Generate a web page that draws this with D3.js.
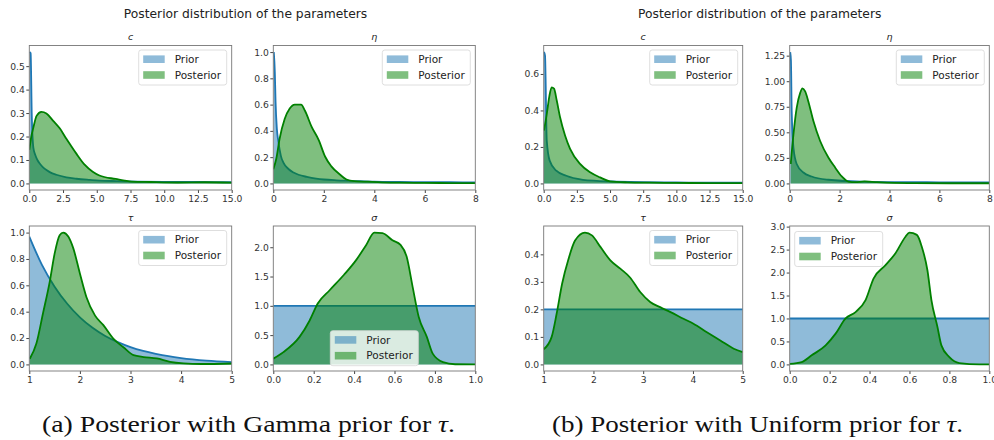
<!DOCTYPE html>
<html>
<head>
<meta charset="utf-8">
<script src="https://cdn.jsdelivr.net/npm/d3@7"></script>
<style>
  body { margin: 0; background: #fff; }
  svg { display: block; font-family: "DejaVu Sans", sans-serif; }
</style>
</head>
<body>
<div id="chart"></div>
<script>
// ---- data ----
// (a) Gamma prior for tau
const aCPriorX = [0.02, 0.1, 0.18, 0.3, 0.45, 0.6, 0.8, 1.0, 1.3, 1.55, 2.0, 2.75, 3.5, 4.5, 5.2, 6.5, 8, 10, 12.5, 15];
const aCPriorY = [0.56, 0.555, 0.3, 0.153, 0.12, 0.1, 0.083, 0.07, 0.056, 0.047, 0.037, 0.026, 0.02, 0.015, 0.012, 0.01, 0.008, 0.007, 0.006, 0.005];
const aCPostX = [0, 0.15, 0.3, 0.54, 0.9, 1.27, 1.77, 2.27, 2.76, 3.1, 3.5, 4.1, 4.7, 5.2, 6.4, 7.6, 9, 11, 13, 15];
const aCPostY = [0.143, 0.2, 0.238, 0.288, 0.305, 0.298, 0.267, 0.234, 0.189, 0.16, 0.126, 0.08, 0.05, 0.034, 0.019, 0.008, 0.006, 0.004, 0.005, 0.003];

const aEtaPriorX = [0.02, 0.06, 0.09, 0.14, 0.2, 0.3, 0.4, 0.6, 0.8, 1.0, 1.33, 1.7, 2.0, 2.5, 3.1, 4.0, 5, 6, 7, 8];
const aEtaPriorY = [1.0, 0.85, 0.62, 0.42, 0.32, 0.21, 0.158, 0.11, 0.083, 0.066, 0.05, 0.037, 0.03, 0.024, 0.02, 0.013, 0.011, 0.01, 0.009, 0.008];
const aEtaPostX = [0, 0.12, 0.25, 0.45, 0.65, 0.85, 1.1, 1.25, 1.52, 1.8, 2.05, 2.3, 2.65, 2.9, 3.2, 3.75, 4.3, 5, 6, 7, 8];
const aEtaPostY = [0.108, 0.19, 0.34, 0.49, 0.57, 0.6, 0.6, 0.555, 0.43, 0.33, 0.205, 0.13, 0.066, 0.03, 0.018, 0.013, 0.008, 0.006, 0.004, 0.003, 0.003];

const aTauPriorX = [1, 1.25, 1.5, 1.75, 2, 2.25, 2.5, 2.75, 3, 3.25, 3.5, 3.75, 4, 4.5, 5];
const aTauPriorY = [0.97, 0.755, 0.59, 0.46, 0.357, 0.278, 0.216, 0.169, 0.131, 0.102, 0.08, 0.062, 0.048, 0.029, 0.018];
const aTauPostX = [1.01, 1.14, 1.27, 1.41, 1.5, 1.6, 1.67, 1.77, 1.87, 2.0, 2.13, 2.3, 2.46, 2.66, 2.86, 3.06, 3.26, 3.52, 3.78, 4.05, 4.4, 5];
const aTauPostY = [0.043, 0.158, 0.386, 0.64, 0.84, 0.98, 1.0, 0.97, 0.88, 0.69, 0.51, 0.37, 0.3, 0.196, 0.13, 0.07, 0.056, 0.045, 0.02, 0.008, 0.003, 0.007];

const aSigPriorX = [0, 1];
const aSigPriorY = [1, 1];
const aSigPostX = [0, 0.05, 0.13, 0.18, 0.22, 0.28, 0.35, 0.41, 0.46, 0.5, 0.54, 0.59, 0.63, 0.66, 0.69, 0.72, 0.76, 0.79, 0.84, 0.9, 1.0];
const aSigPostY = [0.097, 0.21, 0.47, 0.75, 1.04, 1.27, 1.53, 1.78, 2.04, 2.25, 2.24, 2.12, 2.04, 1.84, 1.32, 0.81, 0.47, 0.18, 0.04, 0.003, 0];

// (b) Uniform prior for tau
const bCPriorX = [0.02, 0.1, 0.23, 0.45, 0.95, 1.7, 2.96, 4, 5.5, 7.5, 10, 12.5, 15];
const bCPriorY = [0.72, 0.7, 0.236, 0.125, 0.07, 0.042, 0.02, 0.014, 0.01, 0.007, 0.005, 0.004, 0.004];
const bCPostX = [0.02, 0.23, 0.43, 0.6, 0.78, 0.98, 1.23, 1.61, 1.99, 2.74, 3.5, 4.25, 5.0, 6.3, 8, 10, 12.5, 15];
const bCPostY = [0.29, 0.38, 0.48, 0.527, 0.52, 0.456, 0.364, 0.263, 0.19, 0.107, 0.061, 0.033, 0.011, 0.006, 0.004, 0.003, 0.002, 0.002];

const bEtaPriorX = [0.02, 0.05, 0.08, 0.15, 0.28, 0.55, 0.88, 1.55, 2.89, 4, 5, 6, 7, 8];
const bEtaPriorY = [1.285, 1.2, 0.71, 0.35, 0.19, 0.107, 0.068, 0.036, 0.017, 0.013, 0.012, 0.011, 0.01, 0.01];
const bEtaPostX = [0.04, 0.15, 0.28, 0.42, 0.51, 0.62, 0.75, 0.95, 1.22, 1.55, 1.82, 2.09, 2.36, 2.63, 3.0, 3.5, 4.2, 5, 6.5, 8];
const bEtaPostY = [0.19, 0.48, 0.74, 0.886, 0.93, 0.9, 0.8, 0.61, 0.415, 0.253, 0.156, 0.068, 0.017, 0.012, 0.02, 0.012, 0.005, 0.003, 0.002, 0.002];

const bTauPriorX = [1, 5];
const bTauPriorY = [0.2, 0.2];
const bTauPostX = [1.0, 1.16, 1.26, 1.37, 1.5, 1.63, 1.83, 1.97, 2.14, 2.34, 2.54, 2.74, 2.94, 3.14, 3.34, 3.55, 3.81, 4.01, 4.28, 4.55, 4.82, 5.0];
const bTauPostY = [0.055, 0.1, 0.184, 0.293, 0.384, 0.45, 0.479, 0.469, 0.427, 0.378, 0.348, 0.315, 0.263, 0.227, 0.208, 0.19, 0.166, 0.148, 0.117, 0.087, 0.057, 0.045];

const bSigPriorX = [0, 1];
const bSigPriorY = [1, 1];
const bSigPostX = [0, 0.06, 0.11, 0.18, 0.23, 0.28, 0.33, 0.38, 0.42, 0.48, 0.53, 0.58, 0.6, 0.637, 0.662, 0.69, 0.71, 0.74, 0.76, 0.8, 0.85, 0.95, 1.0];
const bSigPostY = [0.01, 0.05, 0.197, 0.415, 0.67, 1.0, 1.14, 1.4, 1.87, 2.16, 2.42, 2.78, 2.87, 2.82, 2.56, 2.05, 1.4, 0.82, 0.415, 0.16, 0.03, 0, 0];

// tick values
const cXTicks = [0, 2.5, 5, 7.5, 10, 12.5, 15];
const etaXTicks = [0, 2, 4, 6, 8];
const tauXTicks = [1, 2, 3, 4, 5];
const sigXTicks = [0, 0.2, 0.4, 0.6, 0.8, 1.0];
const aCYTicks = [0, 0.1, 0.2, 0.3, 0.4, 0.5];
const aEtaYTicks = [0, 0.2, 0.4, 0.6, 0.8, 1.0];
const aTauYTicks = [0, 0.2, 0.4, 0.6, 0.8, 1.0];
const aSigYTicks = [0, 0.5, 1.0, 1.5, 2.0];
const bCYTicks = [0, 0.2, 0.4, 0.6];
const bEtaYTicks = [0, 0.25, 0.5, 0.75, 1.0, 1.25];
const bTauYTicks = [0, 0.1, 0.2, 0.3, 0.4];
const bSigYTicks = [0, 0.5, 1.0, 1.5, 2.0, 2.5, 3.0];

const figTitles = ["Posterior distribution of the parameters", "Posterior distribution of the parameters"];
const legendLabels = ["Prior", "Posterior"];

// ---- layout ----
const W = 994, H = 440;
const rows = [{top: 45.5, bottom: 190}, {top: 226, bottom: 371}];

const panels = [
  {title: "c", l: 29.3, r: 231.7, row: 0, xd: [0, 15], xt: cXTicks, xf: ".1f", yt: aCYTicks, yf: ".1f",
   prior: [aCPriorX, aCPriorY], post: [aCPostX, aCPostY], leg: "ur"},
  {title: "η", l: 273.3, r: 475.3, row: 0, xd: [0, 8], xt: etaXTicks, xf: "d", yt: aEtaYTicks, yf: ".1f",
   prior: [aEtaPriorX, aEtaPriorY], post: [aEtaPostX, aEtaPostY], leg: "ur"},
  {title: "τ", l: 29.3, r: 231.7, row: 1, xd: [1, 5], xt: tauXTicks, xf: "d", yt: aTauYTicks, yf: ".1f",
   prior: [aTauPriorX, aTauPriorY], post: [aTauPostX, aTauPostY], leg: "ur"},
  {title: "σ", l: 273.3, r: 475.3, row: 1, xd: [0, 1], xt: sigXTicks, xf: ".1f", yt: aSigYTicks, yf: ".1f",
   prior: [aSigPriorX, aSigPriorY], post: [aSigPostX, aSigPostY], leg: "lc"},
  {title: "c", l: 543.7, r: 742.7, row: 0, xd: [0, 15], xt: cXTicks, xf: ".1f", yt: bCYTicks, yf: ".1f",
   prior: [bCPriorX, bCPriorY], post: [bCPostX, bCPostY], leg: "ur"},
  {title: "η", l: 789.7, r: 989.3, row: 0, xd: [0, 8], xt: etaXTicks, xf: "d", yt: bEtaYTicks, yf: ".2f",
   prior: [bEtaPriorX, bEtaPriorY], post: [bEtaPostX, bEtaPostY], leg: "ur"},
  {title: "τ", l: 543.7, r: 742.7, row: 1, xd: [1, 5], xt: tauXTicks, xf: "d", yt: bTauYTicks, yf: ".1f",
   prior: [bTauPriorX, bTauPriorY], post: [bTauPostX, bTauPostY], leg: "ur"},
  {title: "σ", l: 789.7, r: 989.3, row: 1, xd: [0, 1], xt: sigXTicks, xf: ".1f", yt: bSigYTicks, yf: ".1f",
   prior: [bSigPriorX, bSigPriorY], post: [bSigPostX, bSigPostY], leg: "ul"}
];

const blue = "#1f77b4", green = "#008000";

const svg = d3.select("#chart").append("svg")
  .attr("width", W).attr("height", H);

// figure titles
[[245.5, figTitles[0]], [759.7, figTitles[1]]].forEach(([cx, t]) => {
  svg.append("text")
    .attr("x", cx).attr("y", 17.5)
    .attr("text-anchor", "middle")
    .style("font-size", "12.3px").style("fill", "#222")
    .text(t);
});

const zip = (xs, ys) => xs.map((x, i) => ({x: x, y: ys[i]}));

panels.forEach((p, k) => {
  const top = rows[p.row].top, bottom = rows[p.row].bottom;
  const w = p.r - p.l, h = bottom - top;
  const g = svg.append("g").attr("transform", `translate(${p.l},${top})`);

  const prior = zip(p.prior[0], p.prior[1]);
  const post = zip(p.post[0], p.post[1]);
  const ymax = d3.max(prior.concat(post), d => d.y);

  const x = d3.scaleLinear().domain(p.xd).range([0, w]);
  const y = d3.scaleLinear().domain([-0.05 * ymax, 1.05 * ymax]).range([h, 0]);

  g.append("clipPath").attr("id", "clip" + k)
    .append("rect").attr("width", w).attr("height", h);

  const plot = g.append("g").attr("clip-path", `url(#clip${k})`);
  const area = d3.area().curve(d3.curveMonotoneX)
    .x(d => x(d.x)).y0(y(0)).y1(d => y(d.y));
  const line = d3.line().curve(d3.curveMonotoneX)
    .x(d => x(d.x)).y(d => y(d.y));

  [[prior, blue], [post, green]].forEach(([data, col]) => {
    plot.append("path").datum(data)
      .attr("d", area)
      .attr("fill", col).attr("fill-opacity", 0.5);
    plot.append("path").datum(data)
      .attr("d", line)
      .attr("fill", "none").attr("stroke", col).attr("stroke-width", 1.8);
  });

  // axes
  const xAxis = g.append("g").attr("transform", `translate(0,${h})`)
    .call(d3.axisBottom(x).tickValues(p.xt).tickFormat(d3.format(p.xf))
      .tickSize(3).tickPadding(2.5).tickSizeOuter(0));
  const yAxis = g.append("g")
    .call(d3.axisLeft(y).tickValues(p.yt).tickFormat(d3.format(p.yf))
      .tickSize(3).tickPadding(1.5).tickSizeOuter(0));
  [xAxis, yAxis].forEach(a => {
    a.select(".domain").remove();
    a.selectAll("line").attr("stroke", "#444");
    a.selectAll("text").style("font-size", "9.2px").style("fill", "#333")
      .style("font-family", "DejaVu Sans");
  });

  g.append("rect")
    .attr("width", w).attr("height", h)
    .attr("fill", "none").attr("stroke", "#777").attr("stroke-width", 0.9);

  // subplot title
  g.append("text")
    .attr("x", w / 2).attr("y", -5.5)
    .attr("text-anchor", "middle")
    .style("font-size", "9.5px").style("font-style", "italic").style("fill", "#222")
    .text(p.title);

  // legend
  const lw = 88, lh = 35;
  let lx, ly;
  if (p.leg === "ur") { lx = w - lw - 5; ly = 4.5; }
  else if (p.leg === "ul") { lx = 5; ly = 5.5; }
  else { lx = (w - lw) / 2; ly = h - lh - 5.3; }
  const leg = g.append("g").attr("transform", `translate(${lx},${ly})`);
  leg.append("rect")
    .attr("width", lw).attr("height", lh).attr("rx", 2.5)
    .attr("fill", "#fff").attr("fill-opacity", 0.8)
    .attr("stroke", "#d5d5d5").attr("stroke-width", 0.8);
  legendLabels.forEach((lab, i) => {
    const cy = 9.2 + i * 15.8;
    leg.append("rect")
      .attr("x", 4.5).attr("y", cy - 3.8).attr("width", 21.5).attr("height", 7.6)
      .attr("fill", i === 0 ? blue : green).attr("fill-opacity", 0.5);
    leg.append("text")
      .attr("x", 36).attr("y", cy).attr("dy", "0.35em")
      .style("font-size", "10.5px").style("fill", "#222")
      .text(lab);
  });
});

// captions
const captions = [
  {x: 42, len: 413, pre: "(a) Posterior with Gamma prior for "},
  {x: 552, len: 411, pre: "(b) Posterior with Uniform prior for "}
];
captions.forEach(c => {
  const t = svg.append("text")
    .attr("x", c.x).attr("y", 432)
    .attr("textLength", c.len).attr("lengthAdjust", "spacingAndGlyphs")
    .style("font-family", "'Liberation Serif', serif")
    .style("font-size", "24px").style("fill", "#111");
  t.append("tspan").text(c.pre);
  t.append("tspan").style("font-style", "italic").text("τ");
  t.append("tspan").text(".");
});
</script>
</body>
</html>
